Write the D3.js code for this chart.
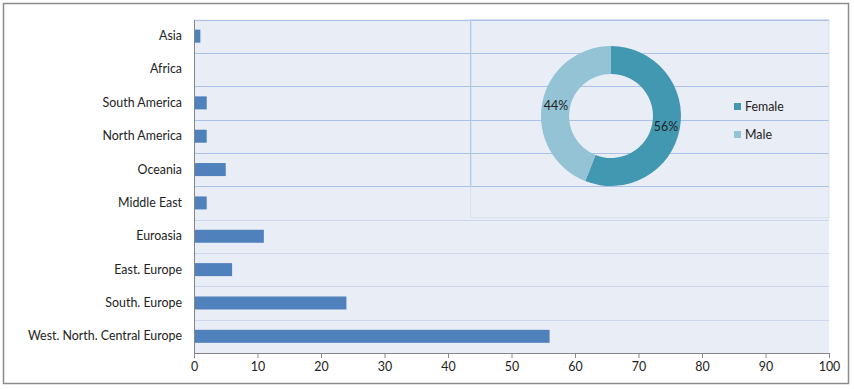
<!DOCTYPE html>
<html lang="en">
<head>
  <meta charset="UTF-8">
  <title>Regions and gender</title>
  <script src="https://d3js.org/d3.v7.min.js"></script>
  <style>
    body { margin: 0; background: #fff; font-family: Lato, "Liberation Sans", sans-serif; }
    svg { display: block; }
    text { font-size: 12.4px; fill: #222; }
  </style>
</head>
<body>
  <svg width="854" height="389"></svg>

  <script>
    const regions = ['Asia', 'Africa', 'South America', 'North America', 'Oceania', 'Middle East',
                     'Euroasia', 'East. Europe', 'South. Europe', 'West. North. Central Europe'];
    const regionValues = [1, 0, 2, 2, 5, 2, 11, 6, 24, 56];
    const xTicks = [0, 10, 20, 30, 40, 50, 60, 70, 80, 90, 100];

    const genders = ['Female', 'Male'];
    const genderShares = [56, 44];
    const genderColors = ['#4398b1', '#93c3d5'];

    const svg = d3.select('svg');
    const fontSize = '12.4px';

    // outer frame
    svg.append('rect')
      .attr('x', 3.5).attr('y', 3.5).attr('width', 845).attr('height', 380)
      .attr('fill', '#fff').attr('stroke', '#8c8c8c').attr('stroke-width', 1.5);

    const plotLeft = 194, plotRight = 829, plotTop = 19.5, plotBottom = 353;

    const x = d3.scaleLinear().domain([0, 100]).range([plotLeft, plotRight]);
    const y = d3.scaleBand().domain(regions).range([plotTop, plotBottom]).paddingInner(0).paddingOuter(0);

    // plot background
    svg.append('rect')
      .attr('x', plotLeft).attr('y', plotTop).attr('width', plotRight - plotLeft).attr('height', plotBottom - plotTop)
      .attr('fill', '#e9edf5');

    // gridlines at band edges
    const edges = regions.map(r => y(r));
    svg.selectAll('.grid')
      .data(edges)
      .enter().append('line')
      .attr('x1', plotLeft).attr('x2', plotRight)
      .attr('y1', d => Math.round(d) + 0.5).attr('y2', d => Math.round(d) + 0.5)
      .attr('stroke', d => d < 200 ? '#abc1e8' : '#cdd6ea')
      .attr('stroke-width', 1);

    // inset panel for the donut
    const panel = { x0: x(43.5), x1: plotRight, y0: plotTop, y1: y('Euroasia') - 2 };
    svg.append('rect')
      .attr('x', panel.x0 + 0.5).attr('y', panel.y0).attr('width', panel.x1 - panel.x0 - 0.5)
      .attr('height', panel.y1 - panel.y0)
      .attr('fill', 'none').attr('stroke', '#d8e0ef');
    svg.append('line')
      .attr('x1', panel.x0 + 0.5).attr('x2', panel.x0 + 0.5)
      .attr('y1', plotTop).attr('y2', y('Middle East'))
      .attr('stroke', '#abc1e8');

    // bars
    svg.selectAll('.bar')
      .data(regions)
      .enter().append('rect')
      .attr('class', 'bar')
      .attr('x', x(0))
      .attr('y', d => y(d) + y.bandwidth() / 2 - 6.5)
      .attr('width', (d, i) => x(regionValues[i]) - x(0))
      .attr('height', 13)
      .attr('fill', '#4f81bd');

    // axes
    const xAxis = svg.append('g')
      .attr('transform', `translate(0,${plotBottom})`)
      .call(d3.axisBottom(x).tickValues(xTicks).tickSize(5).tickPadding(4));
    xAxis.select('.domain').attr('stroke', '#868686');
    xAxis.selectAll('.tick line').attr('stroke', '#868686');
    xAxis.selectAll('text').style('font-size', fontSize).attr('fill', '#222')
      .style('font-family', 'Lato, "Liberation Sans", sans-serif');

    const yAxis = svg.append('g')
      .attr('transform', `translate(${plotLeft},0)`)
      .call(d3.axisLeft(y).tickSize(0).tickPadding(12));
    yAxis.select('.domain').attr('stroke', '#868686');
    yAxis.selectAll('text').style('font-size', fontSize).attr('fill', '#222')
      .style('font-family', 'Lato, "Liberation Sans", sans-serif');

    // donut
    const cx = 611, cy = 116, outerR = 70, innerR = 42;
    const pie = d3.pie().sort(null).value(d => d)(genderShares);
    const arc = d3.arc().innerRadius(innerR).outerRadius(outerR);
    const donut = svg.append('g').attr('transform', `translate(${cx},${cy})`);
    donut.selectAll('path')
      .data(pie)
      .enter().append('path')
      .attr('d', arc)
      .attr('fill', (d, i) => genderColors[i]);
    donut.selectAll('.lbl')
      .data(pie)
      .enter().append('text')
      .attr('transform', d => `translate(${arc.centroid(d)})`)
      .attr('text-anchor', 'middle')
      .attr('dy', '0.35em')
      .text(d => d.data + '%');

    // legend
    const legend = svg.append('g').attr('transform', 'translate(734,107)');
    genders.forEach((g, i) => {
      const row = legend.append('g').attr('transform', `translate(0,${i * 28})`);
      row.append('rect').attr('x', 0).attr('y', -4).attr('width', 7).attr('height', 7)
        .attr('fill', genderColors[i]);
      row.append('text').attr('x', 11).attr('dy', '0.35em').text(g);
    });
  </script>
</body>
</html>
